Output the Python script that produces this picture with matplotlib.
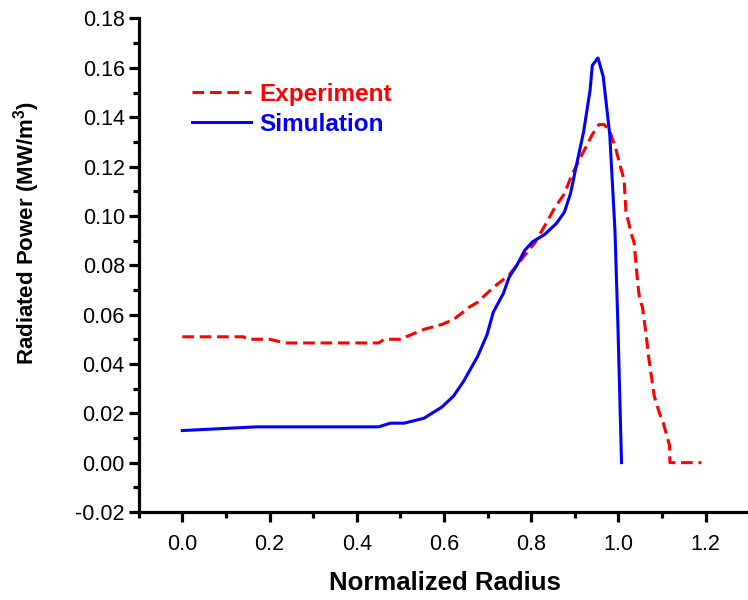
import matplotlib
matplotlib.use('Agg')
import matplotlib.pyplot as plt
from matplotlib.ticker import MultipleLocator, FormatStrFormatter

# ----------- Radial profiles of radiated power -----------
exp_radius = [0.000, 0.140, 0.150, 0.200, 0.236, 0.450, 0.463, 0.504, 0.513, 0.554,
              0.595, 0.622, 0.658, 0.677, 0.713, 0.749, 0.785, 0.808, 0.831, 0.853,
              0.876, 0.894, 0.917, 0.940, 0.955, 0.967, 0.980, 0.994, 1.006, 1.013,
              1.017, 1.029, 1.036, 1.044, 1.048, 1.055, 1.064, 1.069, 1.082, 1.094,
              1.103, 1.117, 1.118, 1.190]
exp_power = [0.051, 0.051, 0.050, 0.050, 0.0485, 0.0485, 0.050, 0.050, 0.051, 0.054,
             0.056, 0.058, 0.063, 0.065, 0.071, 0.076, 0.084, 0.089, 0.096, 0.103,
             0.109, 0.117, 0.125, 0.133, 0.137, 0.137, 0.1345, 0.127, 0.119, 0.1145,
             0.102, 0.093, 0.089, 0.073, 0.067, 0.063, 0.051, 0.043, 0.027, 0.020,
             0.016, 0.007, 0.000, 0.000]

sim_radius = [0.000, 0.170, 0.450, 0.477, 0.509, 0.554, 0.595, 0.622, 0.645, 0.677,
              0.699, 0.713, 0.736, 0.749, 0.767, 0.785, 0.803, 0.831, 0.858, 0.876,
              0.890, 0.903, 0.920, 0.935, 0.940, 0.953, 0.965, 0.980, 0.992, 0.999,
              1.007]
sim_power = [0.013, 0.0145, 0.0145, 0.016, 0.016, 0.018, 0.0225, 0.027, 0.033, 0.043,
             0.052, 0.061, 0.0685, 0.075, 0.080, 0.086, 0.0895, 0.0925, 0.097, 0.1015,
             0.109, 0.120, 0.134, 0.151, 0.161, 0.164, 0.1565, 0.133, 0.094, 0.054,
             0.000]

plt.rcParams['font.family'] = ['Liberation Sans', 'DejaVu Sans']
plt.rcParams['mathtext.fontset'] = 'custom'
plt.rcParams['mathtext.rm'] = 'Liberation Sans'
plt.rcParams['mathtext.bf'] = 'Liberation Sans:bold'

fig = plt.figure(figsize=(7.48, 6.0), dpi=100)
ax = fig.add_axes([0.1854, 0.1467, 0.8146, 0.8225])

ax.plot(exp_radius, exp_power, color='#ff0000', linewidth=2.2,
        linestyle=(0, (3.8, 1.9)), label='Experiment')
ax.plot(sim_radius, sim_power, color='#0000ff', linewidth=2.2,
        linestyle='-', label='Simulation')

ax.set_xlim(-0.1, 1.297)
ax.set_ylim(-0.02, 0.18)

ax.xaxis.set_major_locator(MultipleLocator(0.2))
ax.xaxis.set_minor_locator(MultipleLocator(0.1))
ax.yaxis.set_major_locator(MultipleLocator(0.02))
ax.yaxis.set_minor_locator(MultipleLocator(0.01))
ax.xaxis.set_major_formatter(FormatStrFormatter('%.1f'))
ax.yaxis.set_major_formatter(FormatStrFormatter('%.2f'))

for side in ['top', 'right']:
    ax.spines[side].set_visible(False)
for side in ['left', 'bottom']:
    ax.spines[side].set_linewidth(2.3)

ax.tick_params(which='major', direction='out', length=7, width=2.3, labelsize=15.5)
ax.tick_params(which='minor', direction='out', length=4, width=2.3)
ax.tick_params(axis='x', which='major', pad=9)
ax.tick_params(axis='y', which='major', pad=3)

ax.set_xlabel('Normalized Radius', fontsize=18.5, fontweight='bold')
ax.set_ylabel(r'Radiated Power (MW/m$^\mathbf{3}$)', fontsize=16, fontweight='bold')
ax.xaxis.set_label_coords(0.503, -0.12)
ax.yaxis.set_label_coords(-0.159, 0.566)

leg = ax.legend(loc='upper left', bbox_to_anchor=(0.087, 0.87), frameon=False,
                prop={'weight': 'bold', 'size': 17.5}, handlelength=2.45,
                handletextpad=0.34, labelspacing=0.3, borderpad=0, borderaxespad=0)
for text, line in zip(leg.get_texts(), leg.get_lines()):
    text.set_color(line.get_color())

fig.savefig('out.png', dpi=100)
